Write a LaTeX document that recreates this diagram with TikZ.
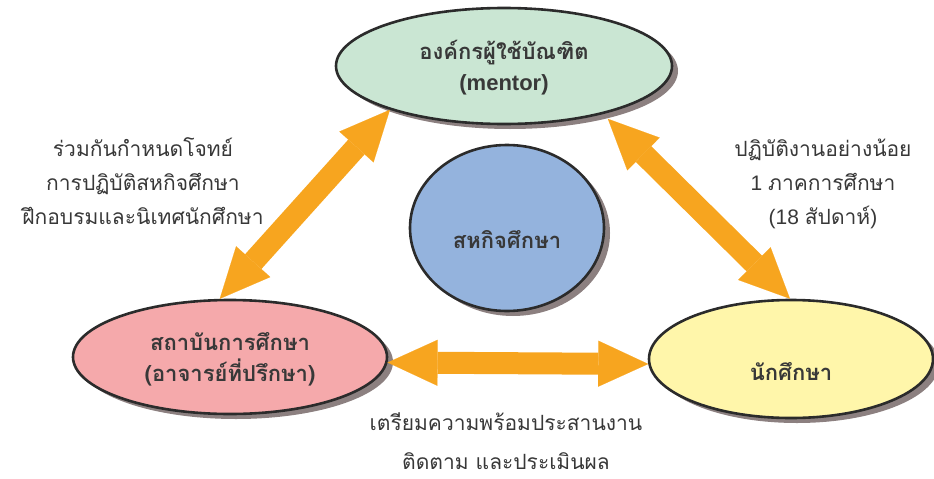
\documentclass[tikz,border=0pt]{standalone}
\usepackage{fontspec}
\setmainfont{Liberation Sans}
\newfontfamily\thai[Script=Thai]{Loma}
\usetikzlibrary{shapes.geometric,shadows,arrows.meta}
\definecolor{edgec}{HTML}{2B2B2B}
\definecolor{shadowc}{HTML}{8C8080}
\definecolor{cgreen}{HTML}{CAE6D3}
\definecolor{cpink}{HTML}{F5A9AB}
\definecolor{cyellow}{HTML}{FFF6AA}
\definecolor{cblue}{HTML}{94B3DD}
\definecolor{orng}{HTML}{F7A51F}
\definecolor{txt}{HTML}{383838}
\tikzset{
  oval/.style={ellipse, draw=edgec, line width=2.6pt, inner sep=0pt,
    drop shadow={shadow xshift=6pt, shadow yshift=-5pt, fill=shadowc, opacity=1}},
  fathead/.tip={Triangle[length=50pt,width=46pt,line width=0.1pt]},
  fat/.style={draw=orng, line width=22pt, fathead-fathead},
  boldtx/.style={text=txt, font=\fontsize{22}{31}\selectfont\bfseries, align=center, inner sep=0pt},
  lbl/.style={text=txt, font=\fontsize{21}{34}\selectfont, align=center, inner sep=0pt}
}
\begin{document}
\begin{tikzpicture}[x=1pt,y=-1pt]
\useasboundingbox (0,0) rectangle (934,479);
% ellipses
\node[oval, fill=cgreen, minimum width=336pt, minimum height=116pt] (org) at (504,66) {};
\node[oval, fill=cpink, minimum width=314pt, minimum height=114pt] (inst) at (230,357) {};
\node[oval, fill=cyellow, minimum width=284pt, minimum height=118pt] (stu) at (791,359) {};
\node[oval, fill=cblue, minimum width=194pt, minimum height=166pt] (coop) at (507,228) {};
% texts in ellipses
\node[boldtx] (orgT) at (504,68) {{\thai องค์กรผู้ใช้บัณฑิต}\\(mentor)};
\node[boldtx] (instT) at (230,359) {{\thai สถาบันการศึกษา}\\{\thai (อาจารย์ที่ปรึกษา)}};
\node[boldtx] (stuT) at (791,372) {\thai นักศึกษา};
\node[boldtx] (coopT) at (507,240) {\thai สหกิจศึกษา};
% arrows
\draw[fat] (inst.100) -- (org.201);
\draw[fat] ([shift={(8,4)}]org.333) -- (stu.91);
\draw[fat] (inst.-2.5) -- (stu.182);
% labels
\node[lbl] (lblL) at (143,181) {\thai ร่วมกันกำหนดโจทย์\\\thai การปฏิบัติสหกิจศึกษา\\\thai ฝึกอบรมและนิเทศนักศึกษา};
\node[lbl] (lblR) at (823,184) {{\thai ปฏิบัติงานอย่างน้อย}\\1 {\thai ภาคการศึกษา}\\(18 {\thai สัปดาห์})};
\node[lbl, font=\fontsize{21}{39}\selectfont] (lblB) at (506,441) {\thai เตรียมความพร้อมประสานงาน\\\thai ติดตาม และประเมินผล};
\end{tikzpicture}
\end{document}
